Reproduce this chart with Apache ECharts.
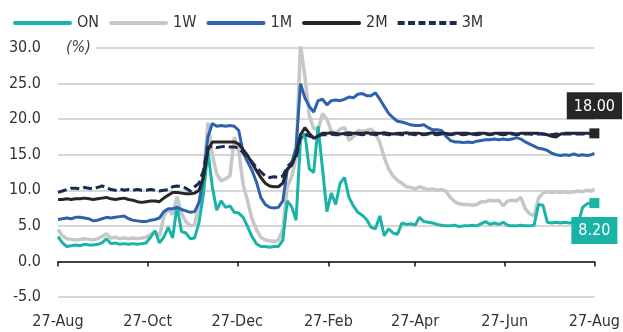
<!DOCTYPE html>
<html>
<head>
<meta charset="utf-8">
<script src="https://cdn.jsdelivr.net/npm/echarts@6/dist/echarts.min.js"></script>
<style>
html, body { margin: 0; padding: 0; background: #fff; }
#chart { width: 623px; height: 332px; }
</style>
</head>
<body>
<div id="chart"></div>
<script>
// Interbank rates by tenor, sampled every third day from 27-Aug to 27-Aug (%)
const seriesNames = ['ON', '1W', '1M', '2M', '3M'];
const tickLabels = ['27-Aug', '27-Oct', '27-Dec', '27-Feb', '27-Apr', '27-Jun', '27-Aug'];

const onRates = [3.5,2.6,2.1,2.2,2.3,2.2,2.4,2.3,2.3,2.4, 2.6,3.2,2.5,2.6,2.4,2.5,2.4,2.5,2.4,2.5,
  2.6,3.4,4.3,2.6,3.4,4.8,3.3,7.8,4.2,4.0, 3.2,3.3,5.5,9.5,15.5,10.5,7.2,8.5,7.6,7.8,
  6.9,6.8,6.2,4.9,3.5,2.5,2.1,2.1,2.0,2.1, 2.1,3.0,8.5,7.7,5.8,17.0,18.0,13.0,12.5,19.0,
  13.0,7.0,9.6,8.0,11.0,11.8,9.0,7.8,6.9,6.5, 5.9,4.8,4.6,6.4,3.6,4.6,4.0,3.8,5.4,5.2,
  5.3,5.1,6.2,5.6,5.5,5.4,5.2,5.1,5.0,5.0, 5.1,4.9,5.0,5.0,5.1,5.0,5.3,5.6,5.2,5.4,
  5.2,5.5,5.1,5.0,5.0,5.1,5.0,5.0,5.1,8.0, 7.9,5.5,5.4,5.5,5.4,5.5,5.4,5.5,5.4,7.6,
  8.1,8.2,8.2];
const oneWeek = [4.5,3.6,3.2,3.1,3.0,3.1,3.2,3.1,3.0,3.2, 3.5,3.9,3.3,3.4,3.2,3.3,3.2,3.3,3.2,3.3,
  3.4,3.8,4.2,3.5,6.3,7.3,6.6,9.1,6.8,5.6, 5.0,5.2,8.2,11.8,19.5,15.0,12.3,11.3,11.6,12.0,
  17.5,15.5,10.8,8.5,6.0,4.5,3.4,3.0,2.9,2.8, 3.0,4.5,10.5,11.9,14.5,30.5,26.0,20.5,18.7,18.5,
  20.8,20.0,18.3,18.0,18.6,18.8,17.0,17.5,18.4,18.3, 18.4,18.6,18.0,16.7,14.6,13.0,12.0,11.4,11.0,10.5,
  10.4,10.2,10.5,10.3,10.1,10.2,10.0,10.1,9.9,9.0, 8.4,8.1,8.0,8.0,7.9,8.0,8.4,8.4,8.6,8.5,
  8.6,7.8,8.5,8.6,8.5,9.0,7.4,6.7,6.4,8.9, 9.6,9.8,9.7,9.8,9.7,9.8,9.7,9.8,9.9,9.8,
  10.0,9.9,10.2];
const oneMonth = [5.9,6.0,6.1,6.0,6.2,6.2,6.1,6.0,5.7,5.8, 6.0,6.2,6.1,6.2,6.3,6.4,6.0,5.8,5.7,5.6,
  5.6,5.8,5.9,6.1,7.0,7.4,7.4,7.6,7.3,7.1, 6.9,7.0,8.3,12.0,17.5,19.4,19.0,19.1,19.0,19.1,
  19.0,18.4,15.3,14.0,12.8,11.2,9.0,8.0,7.6,7.5, 7.6,8.5,12.8,13.8,16.0,25.0,23.0,21.8,21.0,22.6,
  22.8,22.0,22.6,22.7,22.6,22.8,23.1,23.0,23.5,23.6, 23.3,23.3,23.7,22.8,21.8,20.8,20.2,19.7,19.6,19.4,
  19.2,19.1,19.1,19.2,18.8,18.5,18.5,18.4,17.6,17.0, 16.8,16.8,16.7,16.8,16.7,16.9,17.0,17.1,17.1,17.2,
  17.1,17.2,17.1,17.2,17.4,17.2,16.8,16.5,16.2,15.9, 15.8,15.6,15.2,15.0,14.9,15.0,14.9,15.1,14.9,15.0,
  14.9,15.0,15.2];
const twoMonth = [8.7,8.7,8.8,8.7,8.8,8.8,8.9,8.8,8.7,8.8, 8.9,9.0,8.8,8.7,8.8,8.9,8.7,8.6,8.4,8.3,
  8.4,8.5,8.5,8.4,8.9,9.3,9.7,9.7,9.6,9.5, 9.5,9.6,10.0,11.8,15.6,16.8,16.8,16.8,16.8,16.8,
  16.8,16.5,15.7,14.9,13.8,12.8,11.8,11.0,10.6,10.5, 10.5,11.0,13.0,13.5,15.0,17.8,18.8,18.0,17.3,17.6,
  18.0,18.0,18.1,18.0,17.9,18.0,18.1,18.0,18.0,18.0, 18.1,18.0,18.0,18.0,18.1,18.0,17.9,18.0,18.0,18.1,
  18.0,18.0,18.0,17.9,18.0,18.1,18.0,18.0,18.0,17.9, 18.0,18.0,18.0,18.0,17.9,18.0,18.0,18.0,17.9,18.0,
  18.0,18.0,18.0,18.0,17.9,18.0,18.0,18.0,18.0,18.0, 17.9,17.8,17.6,17.5,17.9,18.0,18.0,18.0,18.0,18.0,
  18.0,18.0,18.0];
const threeMonth = [9.7,9.9,10.1,10.3,10.3,10.2,10.4,10.3,10.2,10.4, 10.6,10.4,10.1,10.0,10.2,10.0,10.1,10.0,10.1,10.0,
  10.0,10.1,10.0,9.9,10.0,10.1,10.5,10.6,10.5,10.3, 9.9,10.5,11.0,12.8,16.1,16.2,16.0,16.1,16.2,16.1,
  16.1,15.9,15.3,14.7,14.0,13.2,12.6,12.0,11.8,11.9, 11.8,12.0,13.3,13.9,14.5,17.5,17.9,17.6,17.5,17.7,
  17.8,17.8,17.9,17.8,17.8,17.9,17.8,17.9,17.9,17.8, 17.9,17.9,17.8,17.9,17.9,17.8,17.9,17.9,17.8,17.9,
  17.9,17.8,17.9,17.8,17.9,17.9,17.8,17.9,17.9,17.8, 17.9,17.9,17.8,17.9,17.9,17.8,17.9,17.9,17.8,17.9,
  17.9,17.8,17.9,17.9,17.8,17.9,17.9,17.9,17.8,17.9, 17.9,17.9,17.8,17.9,17.9,17.9,17.9,17.9,17.9,17.9,
  17.9,18.0,18.0];

const colors = { ON: '#19b3a7', '1W': '#c5c8c7', '1M': '#2f62ac', '2M': '#262626', '3M': '#1b2a55' };
const FONT = "'DejaVu Sans Condensed', 'Liberation Sans Narrow', sans-serif";
const FS = 16;
const MONTHS = ['Jan','Feb','Mar','Apr','May','Jun','Jul','Aug','Sep','Oct','Nov','Dec'];

// legend swatches: a solid bar, and a row of short dashes for the dashed series
const SOLID_ICON = 'path://M2,0h55a2,2 0 0 1 0,4h-55a2,2 0 0 1 0,-4z';
const DASH_ICON = 'path://M0,0h7v4h-7z M10.4,0h7v4h-7z M20.8,0h7v4h-7z M31.2,0h7v4h-7z M41.6,0h7v4h-7z M52,0h7v4h-7z';

// one category per calendar day
const categories = [];
const start = Date.UTC(2022, 7, 27);
for (let d = 0; d <= 365; d++) {
  const dt = new Date(start + d * 86400000);
  categories.push(dt.getUTCDate() + '-' + MONTHS[dt.getUTCMonth()] + '-' + dt.getUTCFullYear());
}
const sampleDays = [];
for (let d = 0; d <= 363; d += 3) sampleDays.push(d);
sampleDays.push(365);

const pairs = vals => vals.map((v, i) => [categories[sampleDays[i]], v]);
const isTick = (idx, val) => tickLabels.indexOf(val.replace(/-\d{4}$/, '')) >= 0;
const lastCat = categories[categories.length - 1];

function endMarker(vals, color, pos) {
  const v = vals[vals.length - 1];
  return {
    symbol: 'rect', symbolSize: 10, silent: true,
    itemStyle: { color: color },
    label: {
      show: true, position: pos, distance: 9,
      formatter: p => p.value.toFixed(2),
      color: '#fff', fontFamily: FONT, fontSize: FS,
      backgroundColor: color, padding: [6, 7, 5, 7]
    },
    data: [{ coord: [lastCat, v], value: v }]
  };
}

function line(name, vals, extra) {
  return Object.assign({
    name: name, type: 'line', data: pairs(vals), symbol: 'none',
    xAxisIndex: 0, yAxisIndex: 0,
    lineStyle: { color: colors[name], width: 3 },
    itemStyle: { color: colors[name] }
  }, extra || {});
}

const chart = echarts.init(document.getElementById('chart'));
chart.setOption({
  animation: false,
  backgroundColor: '#fff',
  textStyle: { fontFamily: FONT },
  grid: { left: 58, right: 28, top: 48, bottom: 35, containLabel: false },
  legend: {
    data: seriesNames.map(n => ({ name: n, icon: n === '3M' ? DASH_ICON : SOLID_ICON })),
    left: 8, top: 10, itemWidth: 59, itemHeight: 4, itemGap: 10,
    textStyle: { fontFamily: FONT, fontSize: FS, color: '#333' }
  },
  xAxis: [
    {
      type: 'category', data: categories, boundaryGap: false, position: 'bottom',
      axisLine: { onZero: true, lineStyle: { color: '#111', width: 1.5 } },
      axisTick: { show: true, inside: false, length: 5, interval: isTick, lineStyle: { color: '#111', width: 1.5 } },
      axisLabel: { show: false },
      splitLine: { show: false }
    },
    {
      type: 'category', data: categories, boundaryGap: false, position: 'bottom',
      axisLine: { show: false, onZero: false },
      axisTick: { show: false },
      axisLabel: {
        show: true, interval: isTick, margin: 17,
        formatter: v => v.replace(/-\d{4}$/, ''),
        fontFamily: FONT, fontSize: FS, color: '#333'
      },
      splitLine: { show: false }
    }
  ],
  yAxis: {
    type: 'value', min: -5, max: 30, interval: 5,
    axisLine: { show: false }, axisTick: { show: false },
    axisLabel: { margin: 17, formatter: v => v.toFixed(1), fontFamily: FONT, fontSize: FS, color: '#333' },
    splitLine: { lineStyle: { color: '#c9cbca', width: 1.5 } }
  },
  graphic: [{
    type: 'text', left: 58, top: 40, z: 100,
    style: {
      text: '(%)', font: 'italic ' + FS + 'px ' + FONT, fill: '#444',
      backgroundColor: '#fff', padding: [0, 5, 0, 8]
    }
  }],
  series: [
    line('1W', oneWeek, { lineStyle: { color: colors['1W'], width: 3.5 } }),
    line('ON', onRates, { markPoint: endMarker(onRates, colors.ON, 'bottom') }),
    line('1M', oneMonth),
    line('2M', twoMonth, { markPoint: endMarker(twoMonth, colors['2M'], 'top') }),
    line('3M', threeMonth, { lineStyle: { color: colors['3M'], width: 3, type: [9, 4] } })
  ]
});
</script>
</body>
</html>
